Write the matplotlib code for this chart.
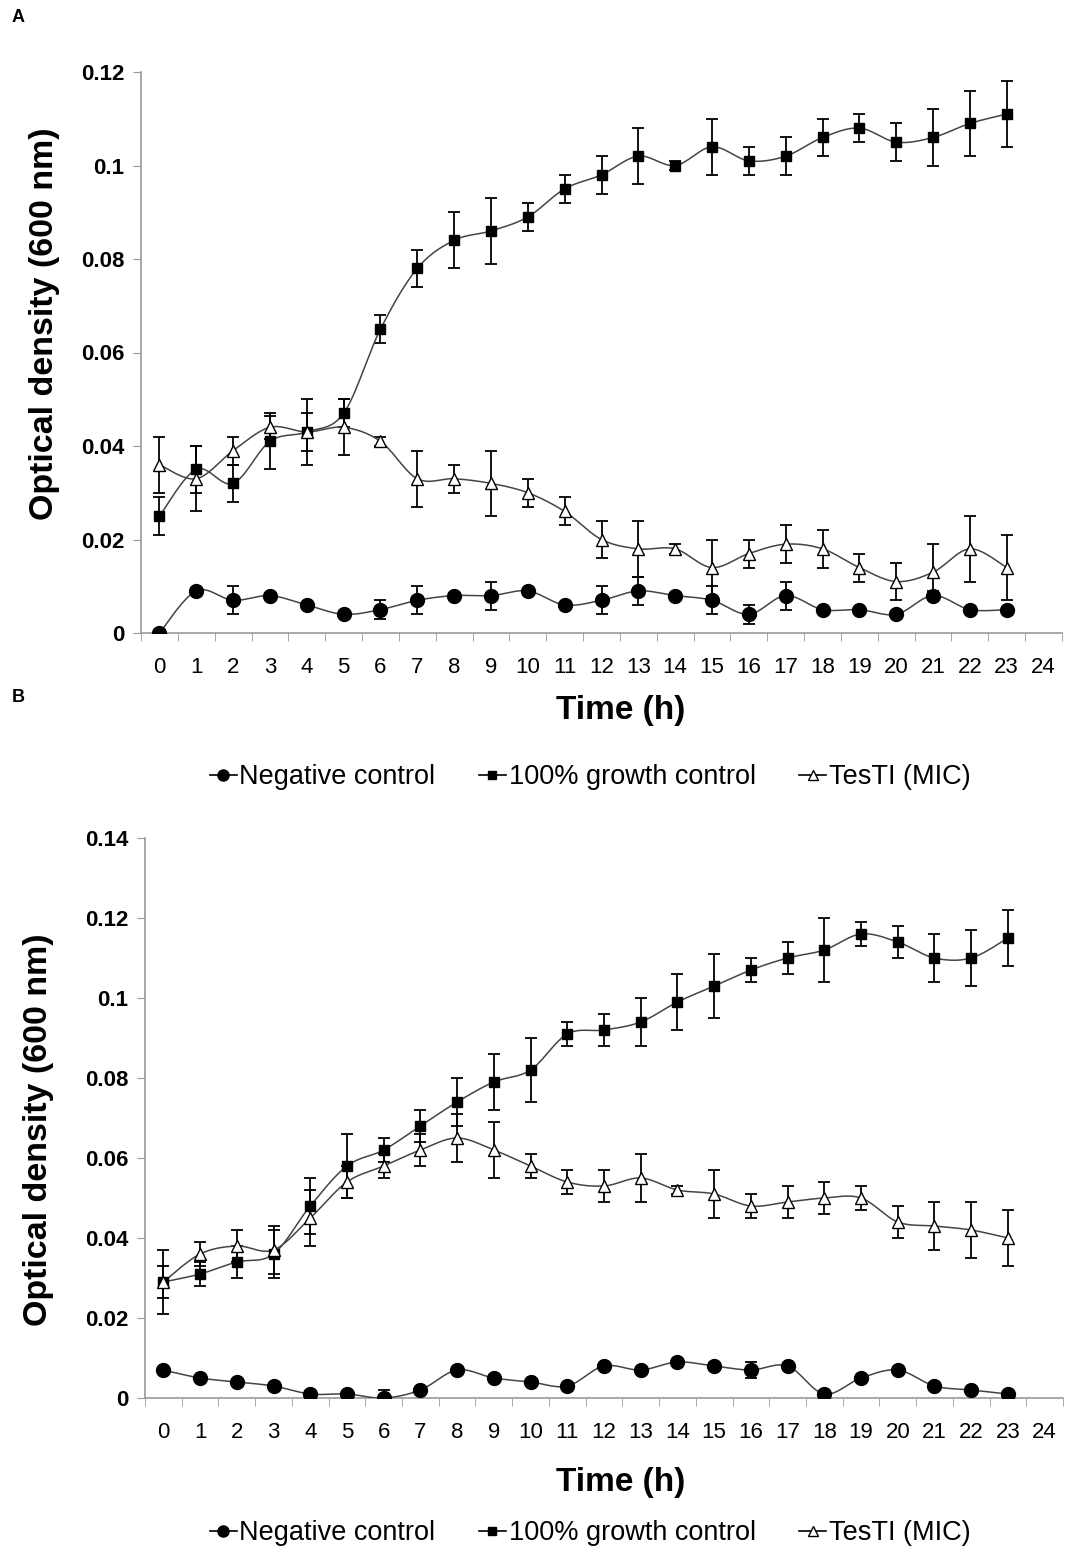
import numpy as np
import matplotlib
matplotlib.use("Agg")
import matplotlib.pyplot as plt
from matplotlib.lines import Line2D

plt.rcParams['font.family'] = ['Liberation Sans', 'DejaVu Sans']

hours = list(range(24))
xtick_labels = [str(h) for h in range(25)]

# panel A
a_neg = [0, 0.009, 0.007, 0.008, 0.006, 0.004, 0.005, 0.007, 0.008, 0.008, 0.009, 0.006,
         0.007, 0.009, 0.008, 0.007, 0.004, 0.008, 0.005, 0.005, 0.004, 0.008, 0.005, 0.005]
a_neg_err = [0, 0.0005, 0.003, 0.0005, 0.0005, 0.0005, 0.002, 0.003, 0.0005, 0.003, 0.0005, 0.0005,
             0.003, 0.003, 0.0005, 0.003, 0.002, 0.003, 0.0005, 0.0005, 0.0005, 0.001, 0.0005, 0.0005]
a_grow = [0.025, 0.035, 0.032, 0.041, 0.043, 0.047, 0.065, 0.078, 0.084, 0.086, 0.089, 0.095,
          0.098, 0.102, 0.100, 0.104, 0.101, 0.102, 0.106, 0.108, 0.105, 0.106, 0.109, 0.111]
a_grow_err = [0.004, 0.005, 0.004, 0.006, 0.007, 0.003, 0.003, 0.004, 0.006, 0.007, 0.003, 0.003,
              0.004, 0.006, 0.001, 0.006, 0.003, 0.004, 0.004, 0.003, 0.004, 0.006, 0.007, 0.007]
a_tes = [0.036, 0.033, 0.039, 0.044, 0.043, 0.044, 0.041, 0.033, 0.033, 0.032, 0.030, 0.026,
         0.020, 0.018, 0.018, 0.014, 0.017, 0.019, 0.018, 0.014, 0.011, 0.013, 0.018, 0.014]
a_tes_err = [0.006, 0.007, 0.003, 0.0025, 0.004, 0.006, 0.001, 0.006, 0.003, 0.007, 0.003, 0.003,
             0.004, 0.006, 0.001, 0.006, 0.003, 0.004, 0.004, 0.003, 0.004, 0.006, 0.007, 0.007]

# panel B
b_neg = [0.007, 0.005, 0.004, 0.003, 0.001, 0.001, 0, 0.002, 0.007, 0.005, 0.004, 0.003,
         0.008, 0.007, 0.009, 0.008, 0.007, 0.008, 0.001, 0.005, 0.007, 0.003, 0.002, 0.001]
b_neg_err = [0.0005, 0.0005, 0.0005, 0.0005, 0.0005, 0.0005, 0.002, 0.0005, 0.0005, 0.0005, 0.0005, 0.0005,
             0.0005, 0.0005, 0.0005, 0.0005, 0.002, 0.0005, 0.0005, 0.0005, 0.0005, 0.0005, 0.0005, 0.0005]
b_grow = [0.029, 0.031, 0.034, 0.036, 0.048, 0.058, 0.062, 0.068, 0.074, 0.079, 0.082, 0.091,
          0.092, 0.094, 0.099, 0.103, 0.107, 0.110, 0.112, 0.116, 0.114, 0.110, 0.110, 0.115]
b_grow_err = [0.004, 0.003, 0.004, 0.006, 0.007, 0.008, 0.003, 0.004, 0.006, 0.007, 0.008, 0.003,
              0.004, 0.006, 0.007, 0.008, 0.003, 0.004, 0.008, 0.003, 0.004, 0.006, 0.007, 0.007]
b_tes = [0.029, 0.036, 0.038, 0.037, 0.045, 0.054, 0.058, 0.062, 0.065, 0.062, 0.058, 0.054,
         0.053, 0.055, 0.052, 0.051, 0.048, 0.049, 0.050, 0.050, 0.044, 0.043, 0.042, 0.040]
b_tes_err = [0.008, 0.003, 0.004, 0.006, 0.007, 0.004, 0.003, 0.004, 0.006, 0.007, 0.003, 0.003,
             0.004, 0.006, 0.001, 0.006, 0.003, 0.004, 0.004, 0.003, 0.004, 0.006, 0.007, 0.007]

series_names = ['Negative control', '100% growth control', 'TesTI (MIC)']


def smooth(x, y, n=16):
    # catmull-rom, like excel's smoothed line
    x = np.asarray(x, float)
    y = np.asarray(y, float)
    px = np.concatenate([[x[0]], x, [x[-1]]])
    py = np.concatenate([[y[0]], y, [y[-1]]])
    xs, ys = [], []
    t = np.linspace(0, 1, n, endpoint=False)
    for i in range(1, len(px) - 2):
        for p, out in ((px, xs), (py, ys)):
            p0, p1, p2, p3 = p[i - 1], p[i], p[i + 1], p[i + 2]
            c1 = p1 + (p2 - p0) / 6
            c2 = p2 - (p3 - p1) / 6
            out.extend((1 - t) ** 3 * p1 + 3 * (1 - t) ** 2 * t * c1 + 3 * (1 - t) * t ** 2 * c2 + t ** 3 * p2)
    xs.append(x[-1])
    ys.append(y[-1])
    return xs, ys


styles = [dict(marker='o', ms=10, mfc='black', mec='black'),
          dict(marker='s', ms=7.5, mfc='black', mec='black'),
          dict(marker='^', ms=9, mfc='white', mec='black', mew=1)]


def panel(ax, data, ymax, yticklabels):
    for (vals, errs), st in zip(data, styles):
        ax.errorbar(hours, vals, yerr=errs, fmt='none', ecolor='black', elinewidth=1.3,
                    capsize=4, capthick=1.3, zorder=2)
        sx, sy = smooth(hours, vals)
        ax.plot(sx, sy, color='#444444', lw=1.1, zorder=3)
        ax.plot(hours, vals, ls='none', zorder=4, **st)
    ax.set_xlim(-0.5, 24.5)
    ax.set_ylim(0, ymax)
    ax.set_yticks(np.arange(0, ymax + 1e-9, 0.02))
    ax.set_yticklabels(yticklabels, fontsize=16, fontweight='bold')
    ax.set_xticks(range(25))
    ax.set_xticklabels(xtick_labels, fontsize=16)
    ax.set_xticks(np.arange(-0.5, 25, 1), minor=True)
    ax.tick_params(axis='x', which='major', length=0, pad=17)
    ax.tick_params(axis='x', which='minor', length=6, color='#999999', direction='out')
    ax.tick_params(axis='y', length=6, color='#999999', pad=6)
    for s in ['top', 'right']:
        ax.spines[s].set_visible(False)
    for s in ['left', 'bottom']:
        ax.spines[s].set_color('#999999')
        ax.spines[s].set_linewidth(1.2)


W, H = 1065, 1552
fig = plt.figure(figsize=(W / 100, H / 100), dpi=100)


def box(l, r, t, b):
    return [l / W, 1 - b / H, (r - l) / W, (b - t) / H]


axA = fig.add_axes(box(141, 1062, 72, 633))
panel(axA, [(a_neg, a_neg_err), (a_grow, a_grow_err), (a_tes, a_tes_err)], 0.12,
      ['0', '0.02', '0.04', '0.06', '0.08', '0.1', '0.12'])
axB = fig.add_axes(box(145, 1063, 838, 1398))
panel(axB, [(b_neg, b_neg_err), (b_grow, b_grow_err), (b_tes, b_tes_err)], 0.14,
      ['0', '0.02', '0.04', '0.06', '0.08', '0.1', '0.12', '0.14'])

ylab = dict(fontsize=24.5, fontweight='bold', rotation=90, ha='center', va='center')
fig.text(45 / W, 1 - 324 / H, 'Optical density (600 nm)', **ylab)
fig.text(39 / W, 1 - 1130 / H, 'Optical density (600 nm)', **ylab)

fig.text(621 / W, 1 - 711 / H, 'Time (h)', fontsize=24, fontweight='bold', ha='center', va='center')
fig.text(621 / W, 1 - 1482 / H, 'Time (h)', fontsize=24, fontweight='bold', ha='center', va='center')
fig.text(12 / W, 1 - 18 / H, 'A', fontsize=13, fontweight='bold', va='center')
fig.text(12 / W, 1 - 698 / H, 'B', fontsize=13, fontweight='bold', va='center')

handles = [Line2D([], [], color='black', lw=1.2, **dict(st, ms=st['ms'] * 0.8)) for st in styles]
for yc in (777, 1533):
    fig.legend(handles, series_names, loc='center', bbox_to_anchor=(590 / W, 1 - yc / H),
               ncol=3, frameon=False, fontsize=19.5, handlelength=1.0, handletextpad=0.1,
               columnspacing=1.6)

fig.savefig('out.png', dpi=100)
